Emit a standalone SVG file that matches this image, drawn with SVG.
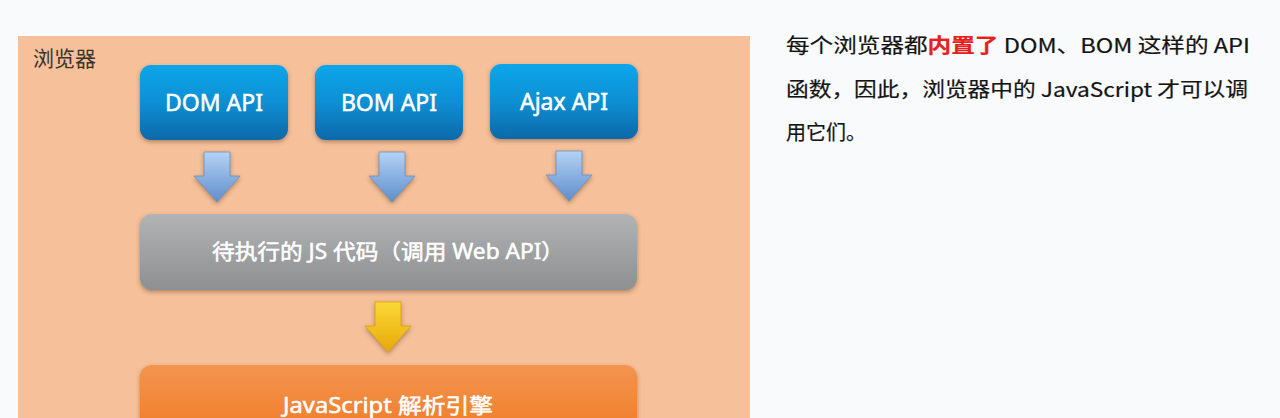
<svg xmlns="http://www.w3.org/2000/svg" width="1280" height="418" viewBox="0 0 1280 418">
  <defs>
    <linearGradient id="gBlue" x1="0" y1="0" x2="0" y2="1">
      <stop offset="0" stop-color="#08a6ea"/>
      <stop offset="0.5" stop-color="#0a8fd4"/>
      <stop offset="1" stop-color="#0b68a8"/>
    </linearGradient>
    <linearGradient id="gGray" x1="0" y1="0" x2="0" y2="1">
      <stop offset="0" stop-color="#b2b3b4"/>
      <stop offset="1" stop-color="#8d8f91"/>
    </linearGradient>
    <linearGradient id="gOrange" x1="0" y1="0" x2="0" y2="1">
      <stop offset="0" stop-color="#f39450"/>
      <stop offset="1" stop-color="#ee7a20"/>
    </linearGradient>
    <linearGradient id="gArrowBlue" x1="0" y1="0" x2="0" y2="1">
      <stop offset="0" stop-color="#b4d2f4"/>
      <stop offset="1" stop-color="#5f8ecb"/>
    </linearGradient>
    <linearGradient id="gArrowYellow" x1="0" y1="0" x2="0" y2="1">
      <stop offset="0" stop-color="#fbd836"/>
      <stop offset="1" stop-color="#e6a90a"/>
    </linearGradient>
    <filter id="shadow" x="-10%" y="-10%" width="120%" height="130%">
      <feDropShadow dx="0" dy="2" stdDeviation="2" flood-color="#5a3a20" flood-opacity="0.45"/>
    </filter>
    <polygon id="arrow" points="-13,0 13,0 13,24 23,24 0,50 -23,24 -13,24"/>
  </defs>
  <style>
    .cn { font-family: "Noto Sans CJK SC", "Noto Sans", sans-serif; }
    .boxtxt { font-family: "Noto Sans", "Noto Sans CJK SC", sans-serif; fill: #ffffff; text-anchor: middle; stroke: #ffffff; stroke-width: 0.5; }
    .para { font-family: "Noto Sans CJK SC", "Noto Sans", sans-serif; font-size: 20px; fill: #141414; stroke: #141414; stroke-width: 0.2; }
  </style>

  <rect x="0" y="0" width="1280" height="418" fill="#f8fafb"/>

  <!-- browser panel -->
  <g id="browser">
    <rect x="18" y="36" width="732" height="400" fill="#f5c09a"/>
    <text x="33" y="66" class="cn" font-size="21" fill="#3b332e">浏览器</text>
  </g>

  <g id="dom-api">
    <rect x="140" y="65" width="148" height="75" rx="11" fill="url(#gBlue)" filter="url(#shadow)"/>
    <text x="214" y="111" class="boxtxt" font-size="23">DOM API</text>
  </g>
  <g id="bom-api">
    <rect x="315" y="65" width="148" height="75" rx="11" fill="url(#gBlue)" filter="url(#shadow)"/>
    <text x="389" y="111" class="boxtxt" font-size="23">BOM API</text>
  </g>
  <g id="ajax-api">
    <rect x="490" y="64" width="148" height="75" rx="11" fill="url(#gBlue)" filter="url(#shadow)"/>
    <text x="564" y="110" class="boxtxt" font-size="23">Ajax API</text>
  </g>

  <g id="js-code">
    <rect x="140" y="214" width="497" height="76" rx="12" fill="url(#gGray)" filter="url(#shadow)"/>
    <text x="388" y="259" class="boxtxt cn" font-size="21" textLength="352" lengthAdjust="spacingAndGlyphs">待执行的 JS 代码（调用 Web API）</text>
  </g>

  <g id="js-engine">
    <rect x="140" y="365" width="497" height="80" rx="12" fill="url(#gOrange)" filter="url(#shadow)"/>
    <text x="388" y="413" class="boxtxt cn" font-size="21" textLength="210" lengthAdjust="spacingAndGlyphs">JavaScript 解析引擎</text>
  </g>

  <g id="connectors">
    <use href="#arrow" transform="translate(217,152)" fill="url(#gArrowBlue)" stroke="#6f8fb8" stroke-width="0.8" filter="url(#shadow)"/>
    <use href="#arrow" transform="translate(392,152)" fill="url(#gArrowBlue)" stroke="#6f8fb8" stroke-width="0.8" filter="url(#shadow)"/>
    <use href="#arrow" transform="translate(569,151)" fill="url(#gArrowBlue)" stroke="#6f8fb8" stroke-width="0.8" filter="url(#shadow)"/>
    <use href="#arrow" transform="translate(388,302)" fill="url(#gArrowYellow)" stroke="#d9a010" stroke-width="0.8" filter="url(#shadow)"/>
  </g>

  <g id="description">
    <text x="786" y="53" class="para" textLength="464" lengthAdjust="spacingAndGlyphs">每个浏览器都<tspan fill="#e8201c" stroke="#e8201c" font-weight="bold">内置了</tspan> DOM、BOM 这样的 API</text>
    <text x="786" y="97" class="para" textLength="462" lengthAdjust="spacingAndGlyphs">函数，因此，浏览器中的 JavaScript 才可以调</text>
    <text x="786" y="140" class="para">用它们。</text>
  </g>
</svg>
